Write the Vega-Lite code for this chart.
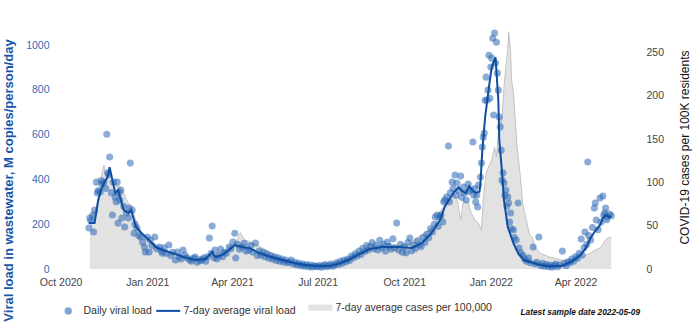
{
"$schema": "https://vega.github.io/schema/vega-lite/v6.json",
"width": 577, "height": 244,
"autosize": {"type": "none"},
"padding": {"left": 55, "top": 25, "right": 68, "bottom": 66},
"background": "white",
"config": {"view": {"stroke": null}, "font": "Liberation Sans",
  "axis": {"grid": false, "domain": false, "ticks": false, "labelFont": "Liberation Sans", "titleFont": "Liberation Sans"}},
"title": {"text": "Latest sample date 2022-05-09", "orient": "bottom", "anchor": "end", "frame": "group", "dx": 8, "fontSize": 8.3, "fontWeight": "bold", "fontStyle": "italic", "font": "Liberation Sans", "color": "#111", "offset": -20},
"datasets": {
"cases": [
{"d":"2020-11-01","c":58},{"d":"2020-11-03","c":60},{"d":"2020-11-07","c":68},{"d":"2020-11-11","c":88},{"d":"2020-11-14","c":111},{"d":"2020-11-16","c":120},{"d":"2020-11-19","c":106},{"d":"2020-11-23","c":102},{"d":"2020-11-28","c":97},{"d":"2020-12-03","c":95},{"d":"2020-12-07","c":88},{"d":"2020-12-10","c":80},{"d":"2020-12-16","c":68},{"d":"2020-12-21","c":53},{"d":"2020-12-26","c":42},{"d":"2021-01-03","c":34},{"d":"2021-01-14","c":25},{"d":"2021-01-25","c":20},{"d":"2021-02-08","c":16},{"d":"2021-02-21","c":14},{"d":"2021-03-08","c":15},{"d":"2021-03-21","c":20},{"d":"2021-03-31","c":25},{"d":"2021-04-07","c":35},{"d":"2021-04-10","c":42},{"d":"2021-04-14","c":34},{"d":"2021-04-23","c":30},{"d":"2021-05-04","c":24},{"d":"2021-05-15","c":17},{"d":"2021-05-26","c":11},{"d":"2021-06-06","c":7},{"d":"2021-06-20","c":5},{"d":"2021-07-05","c":4},{"d":"2021-07-18","c":6},{"d":"2021-07-28","c":10},{"d":"2021-08-08","c":16},{"d":"2021-08-20","c":22},{"d":"2021-09-01","c":27},{"d":"2021-09-12","c":29},{"d":"2021-09-25","c":27},{"d":"2021-10-05","c":28},{"d":"2021-10-12","c":34},{"d":"2021-10-23","c":42},{"d":"2021-11-02","c":49},{"d":"2021-11-07","c":65},{"d":"2021-11-12","c":72},{"d":"2021-11-16","c":83},{"d":"2021-11-20","c":78},{"d":"2021-11-23","c":88},{"d":"2021-11-27","c":76},{"d":"2021-11-30","c":57},{"d":"2021-12-03","c":80},{"d":"2021-12-08","c":76},{"d":"2021-12-11","c":65},{"d":"2021-12-15","c":57},{"d":"2021-12-19","c":53},{"d":"2021-12-22","c":45},{"d":"2021-12-24","c":80},{"d":"2021-12-27","c":111},{"d":"2022-01-02","c":126},{"d":"2022-01-05","c":141},{"d":"2022-01-07","c":130},{"d":"2022-01-09","c":157},{"d":"2022-01-10","c":176},{"d":"2022-01-12","c":165},{"d":"2022-01-14","c":192},{"d":"2022-01-15","c":211},{"d":"2022-01-17","c":234},{"d":"2022-01-19","c":253},{"d":"2022-01-20","c":274},{"d":"2022-01-22","c":253},{"d":"2022-01-23","c":219},{"d":"2022-01-25","c":204},{"d":"2022-01-29","c":141},{"d":"2022-02-01","c":111},{"d":"2022-02-04","c":75},{"d":"2022-02-08","c":55},{"d":"2022-02-11","c":40},{"d":"2022-02-14","c":37},{"d":"2022-02-17","c":25},{"d":"2022-02-23","c":18},{"d":"2022-03-04","c":14},{"d":"2022-03-12","c":12},{"d":"2022-03-18","c":10},{"d":"2022-03-28","c":11},{"d":"2022-04-08","c":14},{"d":"2022-04-16","c":18},{"d":"2022-04-22","c":22},{"d":"2022-04-28","c":25},{"d":"2022-05-03","c":34},{"d":"2022-05-06","c":36},{"d":"2022-05-09","c":37}
],
"avg": [
{"d":"2020-10-31","v":205},{"d":"2020-11-06","v":205},{"d":"2020-11-10","v":308},{"d":"2020-11-13","v":353},{"d":"2020-11-16","v":384},{"d":"2020-11-20","v":411},{"d":"2020-11-22","v":455},{"d":"2020-11-25","v":397},{"d":"2020-11-28","v":339},{"d":"2020-12-01","v":353},{"d":"2020-12-04","v":308},{"d":"2020-12-07","v":263},{"d":"2020-12-12","v":250},{"d":"2020-12-15","v":263},{"d":"2020-12-20","v":188},{"d":"2020-12-26","v":160},{"d":"2021-01-03","v":129},{"d":"2021-01-10","v":98},{"d":"2021-01-17","v":85},{"d":"2021-01-28","v":71},{"d":"2021-02-08","v":54},{"d":"2021-02-21","v":40},{"d":"2021-03-04","v":45},{"d":"2021-03-11","v":76},{"d":"2021-03-14","v":54},{"d":"2021-03-21","v":62},{"d":"2021-03-29","v":85},{"d":"2021-04-04","v":107},{"d":"2021-04-12","v":98},{"d":"2021-04-19","v":94},{"d":"2021-04-30","v":71},{"d":"2021-05-12","v":55},{"d":"2021-05-25","v":40},{"d":"2021-06-05","v":28},{"d":"2021-06-18","v":18},{"d":"2021-07-01","v":13},{"d":"2021-07-15","v":15},{"d":"2021-07-25","v":25},{"d":"2021-08-05","v":45},{"d":"2021-08-15","v":68},{"d":"2021-08-25","v":88},{"d":"2021-09-07","v":98},{"d":"2021-09-25","v":98},{"d":"2021-10-09","v":94},{"d":"2021-10-20","v":116},{"d":"2021-10-30","v":160},{"d":"2021-11-08","v":219},{"d":"2021-11-13","v":277},{"d":"2021-11-23","v":345},{"d":"2021-11-28","v":365},{"d":"2021-12-01","v":350},{"d":"2021-12-05","v":339},{"d":"2021-12-09","v":370},{"d":"2021-12-12","v":353},{"d":"2021-12-16","v":340},{"d":"2021-12-20","v":345},{"d":"2021-12-21","v":383},{"d":"2021-12-23","v":531},{"d":"2021-12-26","v":680},{"d":"2021-12-30","v":812},{"d":"2022-01-02","v":902},{"d":"2022-01-06","v":946},{"d":"2022-01-09","v":754},{"d":"2022-01-10","v":576},{"d":"2022-01-13","v":428},{"d":"2022-01-15","v":308},{"d":"2022-01-19","v":188},{"d":"2022-01-25","v":116},{"d":"2022-01-30","v":71},{"d":"2022-02-05","v":40},{"d":"2022-02-22","v":18},{"d":"2022-03-05","v":12},{"d":"2022-03-18","v":15},{"d":"2022-03-29","v":35},{"d":"2022-04-07","v":66},{"d":"2022-04-12","v":94},{"d":"2022-04-17","v":138},{"d":"2022-04-21","v":165},{"d":"2022-04-27","v":196},{"d":"2022-04-30","v":228},{"d":"2022-05-03","v":241},{"d":"2022-05-07","v":232},{"d":"2022-05-09","v":236}
],
"daily": [
{"d":"2020-10-31","v":183},{"d":"2020-11-01","v":228},{"d":"2020-11-02","v":215},{"d":"2020-11-04","v":240},{"d":"2020-11-05","v":165},{"d":"2020-11-06","v":263},{"d":"2020-11-08","v":388},{"d":"2020-11-09","v":340},{"d":"2020-11-10","v":350},{"d":"2020-11-12","v":344},{"d":"2020-11-13","v":395},{"d":"2020-11-14","v":380},{"d":"2020-11-16","v":388},{"d":"2020-11-18","v":360},{"d":"2020-11-19","v":602},{"d":"2020-11-20","v":430},{"d":"2020-11-21","v":420},{"d":"2020-11-22","v":500},{"d":"2020-11-24","v":340},{"d":"2020-11-25","v":241},{"d":"2020-11-26","v":388},{"d":"2020-11-28","v":321},{"d":"2020-11-29","v":300},{"d":"2020-11-30","v":388},{"d":"2020-12-01","v":205},{"d":"2020-12-02","v":340},{"d":"2020-12-03","v":308},{"d":"2020-12-04","v":353},{"d":"2020-12-05","v":228},{"d":"2020-12-07","v":280},{"d":"2020-12-08","v":188},{"d":"2020-12-10","v":250},{"d":"2020-12-12","v":228},{"d":"2020-12-13","v":272},{"d":"2020-12-14","v":473},{"d":"2020-12-16","v":263},{"d":"2020-12-18","v":160},{"d":"2020-12-19","v":200},{"d":"2020-12-21","v":183},{"d":"2020-12-23","v":150},{"d":"2020-12-25","v":143},{"d":"2020-12-27","v":120},{"d":"2020-12-29","v":98},{"d":"2020-12-30","v":76},{"d":"2021-01-01","v":143},{"d":"2021-01-03","v":76},{"d":"2021-01-04","v":129},{"d":"2021-01-06","v":105},{"d":"2021-01-09","v":143},{"d":"2021-01-11","v":90},{"d":"2021-01-14","v":98},{"d":"2021-01-16","v":80},{"d":"2021-01-17","v":71},{"d":"2021-01-19","v":95},{"d":"2021-01-21","v":70},{"d":"2021-01-24","v":107},{"d":"2021-01-26","v":60},{"d":"2021-01-28","v":75},{"d":"2021-01-31","v":40},{"d":"2021-02-02","v":76},{"d":"2021-02-04","v":55},{"d":"2021-02-06","v":45},{"d":"2021-02-08","v":85},{"d":"2021-02-10","v":62},{"d":"2021-02-12","v":50},{"d":"2021-02-15","v":40},{"d":"2021-02-17","v":35},{"d":"2021-02-19","v":48},{"d":"2021-02-21","v":54},{"d":"2021-02-23","v":30},{"d":"2021-02-26","v":38},{"d":"2021-02-28","v":40},{"d":"2021-03-02","v":50},{"d":"2021-03-04","v":35},{"d":"2021-03-06","v":55},{"d":"2021-03-08","v":138},{"d":"2021-03-10","v":70},{"d":"2021-03-11","v":192},{"d":"2021-03-13","v":50},{"d":"2021-03-14","v":85},{"d":"2021-03-16","v":45},{"d":"2021-03-18","v":60},{"d":"2021-03-20","v":89},{"d":"2021-03-22","v":55},{"d":"2021-03-24","v":75},{"d":"2021-03-26","v":70},{"d":"2021-03-29","v":98},{"d":"2021-03-31","v":90},{"d":"2021-04-02","v":120},{"d":"2021-04-04","v":160},{"d":"2021-04-05","v":49},{"d":"2021-04-07","v":110},{"d":"2021-04-09","v":88},{"d":"2021-04-12","v":98},{"d":"2021-04-14","v":115},{"d":"2021-04-16","v":80},{"d":"2021-04-19","v":85},{"d":"2021-04-21","v":105},{"d":"2021-04-23","v":75},{"d":"2021-04-26","v":116},{"d":"2021-04-28","v":60},{"d":"2021-04-30","v":80},{"d":"2021-05-02","v":62},{"d":"2021-05-04","v":75},{"d":"2021-05-06","v":55},{"d":"2021-05-08","v":68},{"d":"2021-05-10","v":48},{"d":"2021-05-12","v":60},{"d":"2021-05-14","v":45},{"d":"2021-05-16","v":55},{"d":"2021-05-18","v":38},{"d":"2021-05-20","v":50},{"d":"2021-05-22","v":35},{"d":"2021-05-24","v":45},{"d":"2021-05-26","v":30},{"d":"2021-05-28","v":40},{"d":"2021-05-30","v":28},{"d":"2021-06-01","v":32},{"d":"2021-06-03","v":40},{"d":"2021-06-05","v":22},{"d":"2021-06-07","v":30},{"d":"2021-06-09","v":18},{"d":"2021-06-11","v":25},{"d":"2021-06-13","v":15},{"d":"2021-06-15","v":22},{"d":"2021-06-17","v":12},{"d":"2021-06-19","v":20},{"d":"2021-06-21","v":10},{"d":"2021-06-23","v":18},{"d":"2021-06-25","v":8},{"d":"2021-06-27","v":15},{"d":"2021-06-29","v":12},{"d":"2021-07-01","v":10},{"d":"2021-07-03","v":16},{"d":"2021-07-05","v":8},{"d":"2021-07-07","v":14},{"d":"2021-07-09","v":20},{"d":"2021-07-11","v":10},{"d":"2021-07-13","v":15},{"d":"2021-07-15","v":22},{"d":"2021-07-17","v":12},{"d":"2021-07-19","v":18},{"d":"2021-07-21","v":28},{"d":"2021-07-23","v":20},{"d":"2021-07-25","v":35},{"d":"2021-07-27","v":25},{"d":"2021-07-29","v":40},{"d":"2021-07-31","v":32},{"d":"2021-08-02","v":45},{"d":"2021-08-04","v":38},{"d":"2021-08-06","v":58},{"d":"2021-08-08","v":50},{"d":"2021-08-10","v":68},{"d":"2021-08-12","v":58},{"d":"2021-08-14","v":80},{"d":"2021-08-16","v":65},{"d":"2021-08-18","v":92},{"d":"2021-08-20","v":78},{"d":"2021-08-22","v":105},{"d":"2021-08-24","v":85},{"d":"2021-08-26","v":100},{"d":"2021-08-28","v":118},{"d":"2021-08-30","v":90},{"d":"2021-09-01","v":105},{"d":"2021-09-03","v":85},{"d":"2021-09-05","v":128},{"d":"2021-09-07","v":95},{"d":"2021-09-09","v":110},{"d":"2021-09-11","v":80},{"d":"2021-09-13","v":120},{"d":"2021-09-15","v":100},{"d":"2021-09-17","v":88},{"d":"2021-09-19","v":135},{"d":"2021-09-21","v":95},{"d":"2021-09-23","v":205},{"d":"2021-09-25","v":85},{"d":"2021-09-27","v":110},{"d":"2021-09-29","v":75},{"d":"2021-10-01","v":100},{"d":"2021-10-03","v":72},{"d":"2021-10-05","v":118},{"d":"2021-10-07","v":138},{"d":"2021-10-09","v":82},{"d":"2021-10-11","v":107},{"d":"2021-10-13","v":92},{"d":"2021-10-15","v":125},{"d":"2021-10-17","v":108},{"d":"2021-10-19","v":100},{"d":"2021-10-21","v":140},{"d":"2021-10-23","v":118},{"d":"2021-10-25","v":155},{"d":"2021-10-27","v":140},{"d":"2021-10-29","v":180},{"d":"2021-10-31","v":165},{"d":"2021-11-02","v":200},{"d":"2021-11-03","v":232},{"d":"2021-11-05","v":241},{"d":"2021-11-06","v":190},{"d":"2021-11-08","v":232},{"d":"2021-11-09","v":241},{"d":"2021-11-11","v":210},{"d":"2021-11-12","v":299},{"d":"2021-11-13","v":308},{"d":"2021-11-15","v":321},{"d":"2021-11-17","v":549},{"d":"2021-11-18","v":300},{"d":"2021-11-19","v":340},{"d":"2021-11-21","v":388},{"d":"2021-11-22","v":360},{"d":"2021-11-24","v":420},{"d":"2021-11-25","v":330},{"d":"2021-11-26","v":384},{"d":"2021-11-28","v":350},{"d":"2021-11-30","v":415},{"d":"2021-12-01","v":320},{"d":"2021-12-03","v":366},{"d":"2021-12-04","v":340},{"d":"2021-12-06","v":308},{"d":"2021-12-08","v":380},{"d":"2021-12-09","v":345},{"d":"2021-12-11","v":353},{"d":"2021-12-13","v":567},{"d":"2021-12-14","v":330},{"d":"2021-12-15","v":360},{"d":"2021-12-16","v":299},{"d":"2021-12-17","v":330},{"d":"2021-12-18","v":277},{"d":"2021-12-19","v":375},{"d":"2021-12-21","v":411},{"d":"2021-12-22","v":473},{"d":"2021-12-23","v":545},{"d":"2021-12-24","v":589},{"d":"2021-12-25","v":607},{"d":"2021-12-26","v":754},{"d":"2021-12-27","v":857},{"d":"2021-12-28","v":754},{"d":"2021-12-29","v":800},{"d":"2021-12-30","v":955},{"d":"2021-12-31","v":763},{"d":"2022-01-01","v":902},{"d":"2022-01-02","v":942},{"d":"2022-01-03","v":1031},{"d":"2022-01-04","v":688},{"d":"2022-01-05","v":1054},{"d":"2022-01-06","v":920},{"d":"2022-01-07","v":1013},{"d":"2022-01-08","v":875},{"d":"2022-01-09","v":799},{"d":"2022-01-10","v":679},{"d":"2022-01-11","v":634},{"d":"2022-01-12","v":531},{"d":"2022-01-13","v":397},{"d":"2022-01-14","v":430},{"d":"2022-01-15","v":384},{"d":"2022-01-16","v":330},{"d":"2022-01-17","v":353},{"d":"2022-01-18","v":280},{"d":"2022-01-19","v":321},{"d":"2022-01-20","v":295},{"d":"2022-01-21","v":210},{"d":"2022-01-22","v":250},{"d":"2022-01-23","v":180},{"d":"2022-01-25","v":174},{"d":"2022-01-26","v":140},{"d":"2022-01-28","v":129},{"d":"2022-01-30","v":295},{"d":"2022-01-31","v":94},{"d":"2022-02-02","v":71},{"d":"2022-02-04","v":60},{"d":"2022-02-06","v":45},{"d":"2022-02-08","v":35},{"d":"2022-02-10","v":50},{"d":"2022-02-12","v":28},{"d":"2022-02-15","v":98},{"d":"2022-02-17","v":22},{"d":"2022-02-19","v":30},{"d":"2022-02-21","v":143},{"d":"2022-02-23","v":15},{"d":"2022-02-25","v":25},{"d":"2022-02-27","v":12},{"d":"2022-03-01","v":20},{"d":"2022-03-03","v":10},{"d":"2022-03-05","v":18},{"d":"2022-03-07","v":8},{"d":"2022-03-09","v":15},{"d":"2022-03-11","v":22},{"d":"2022-03-13","v":10},{"d":"2022-03-15","v":18},{"d":"2022-03-18","v":80},{"d":"2022-03-20","v":25},{"d":"2022-03-22","v":15},{"d":"2022-03-24","v":32},{"d":"2022-03-26","v":28},{"d":"2022-03-28","v":45},{"d":"2022-03-30","v":35},{"d":"2022-04-01","v":55},{"d":"2022-04-03","v":48},{"d":"2022-04-05","v":70},{"d":"2022-04-07","v":134},{"d":"2022-04-08","v":62},{"d":"2022-04-10","v":95},{"d":"2022-04-11","v":165},{"d":"2022-04-13","v":110},{"d":"2022-04-14","v":478},{"d":"2022-04-15","v":150},{"d":"2022-04-17","v":130},{"d":"2022-04-19","v":185},{"d":"2022-04-21","v":272},{"d":"2022-04-22","v":295},{"d":"2022-04-23","v":219},{"d":"2022-04-25","v":175},{"d":"2022-04-27","v":317},{"d":"2022-04-28","v":210},{"d":"2022-04-30","v":326},{"d":"2022-05-01","v":240},{"d":"2022-05-02","v":250},{"d":"2022-05-03","v":272},{"d":"2022-05-04","v":220},{"d":"2022-05-05","v":232},{"d":"2022-05-07","v":245},{"d":"2022-05-09","v":238}
]
},
"encoding": {
  "x": {"field": "d", "type": "temporal",
    "scale": {"type": "utc", "domain": [{"year": 2020, "month": 9, "date": 25, "utc": true}, {"year": 2022, "month": 5, "date": 31, "utc": true}]},
    "axis": {"title": null, "format": "%b %Y", "labelFontSize": 10.5, "labelColor": "#444", "labelPadding": 8,
      "values": [{"year": 2020, "month": 10, "date": 1, "utc": true}, {"year": 2021, "month": 1, "date": 1, "utc": true}, {"year": 2021, "month": 4, "date": 1, "utc": true}, {"year": 2021, "month": 7, "date": 1, "utc": true}, {"year": 2021, "month": 10, "date": 1, "utc": true}, {"year": 2022, "month": 1, "date": 1, "utc": true}, {"year": 2022, "month": 4, "date": 1, "utc": true}]}}
},
"layer": [
  {"data": {"name": "cases"},
   "encoding": {"y": {"field": "c", "type": "quantitative", "scale": {"domain": [0, 282], "nice": false},
      "axis": {"orient": "right", "values": [0, 50, 100, 150, 200, 250], "labelColor": "#444", "labelFontSize": 10.5, "labelPadding": 14,
        "title": "COVID-19 cases per 100K residents", "titleColor": "#111", "titleFontSize": 12, "titleFontWeight": "normal", "titleAngle": 270, "titleBaseline": "top", "titlePadding": 16}}},
   "layer": [
     {"mark": {"type": "area", "interpolate": "linear"},
      "encoding": {"color": {"datum": "7-day average cases per 100,000",
        "scale": {"domain": ["Daily viral load", "7-day average viral load", "7-day average cases per 100,000"], "range": ["#2b68b5", "#0d4ea0", "#e2e2e2"]},
        "legend": {"orient": "bottom", "direction": "horizontal", "title": null, "offset": 6, "padding": 8, "labelFontSize": 10.5, "labelColor": "#333", "labelFont": "Liberation Sans", "columnPadding": 0, "labelOffset": 10,
          "encode": {"symbols": {"update": {
            "shape": {"signal": "datum.value === 'Daily viral load' ? 'circle' : 'stroke'"},
            "size": {"signal": "datum.value === 'Daily viral load' ? 55 : 576"},
            "strokeWidth": {"signal": "datum.value === 'Daily viral load' ? 0 : (datum.value === '7-day average viral load' ? 2 : 6)"},
            "stroke": {"signal": "datum.value === 'Daily viral load' ? 'transparent' : (datum.value === '7-day average viral load' ? '#0d4ea0' : '#d9d9d9')"},
            "fill": {"signal": "datum.value === 'Daily viral load' ? '#2b68b5' : 'transparent'"},
            "fillOpacity": {"value": 0.6},
            "opacity": {"value": 1}}}}}}}},
     {"mark": {"type": "line", "stroke": "#b8b8b8", "strokeWidth": 0.8, "interpolate": "linear"}, "encoding": {}}
   ]},
  {"layer": [
     {"data": {"name": "daily"},
      "mark": {"type": "circle", "size": 50, "opacity": 0.55},
      "encoding": {
        "y": {"field": "v", "type": "quantitative", "scale": {"domain": [0, 1090], "nice": false},
          "axis": {"orient": "left", "values": [0, 200, 400, 600, 800, 1000], "format": "d", "labelColor": "#2f6db5", "labelFontSize": 10.5, "labelPadding": 6,
            "title": "Viral load in wastewater, M copies/person/day", "titleColor": "#1756a9", "titleFontSize": 13, "titleFontWeight": "bold", "titlePadding": 10, "titleY": 155}},
        "color": {"datum": "Daily viral load"}}},
     {"data": {"name": "avg"},
      "mark": {"type": "line", "strokeWidth": 2, "interpolate": "linear"},
      "encoding": {
        "y": {"field": "v", "type": "quantitative"},
        "color": {"datum": "7-day average viral load"}}}
  ]}
],
"resolve": {"scale": {"y": "independent"}}
}
